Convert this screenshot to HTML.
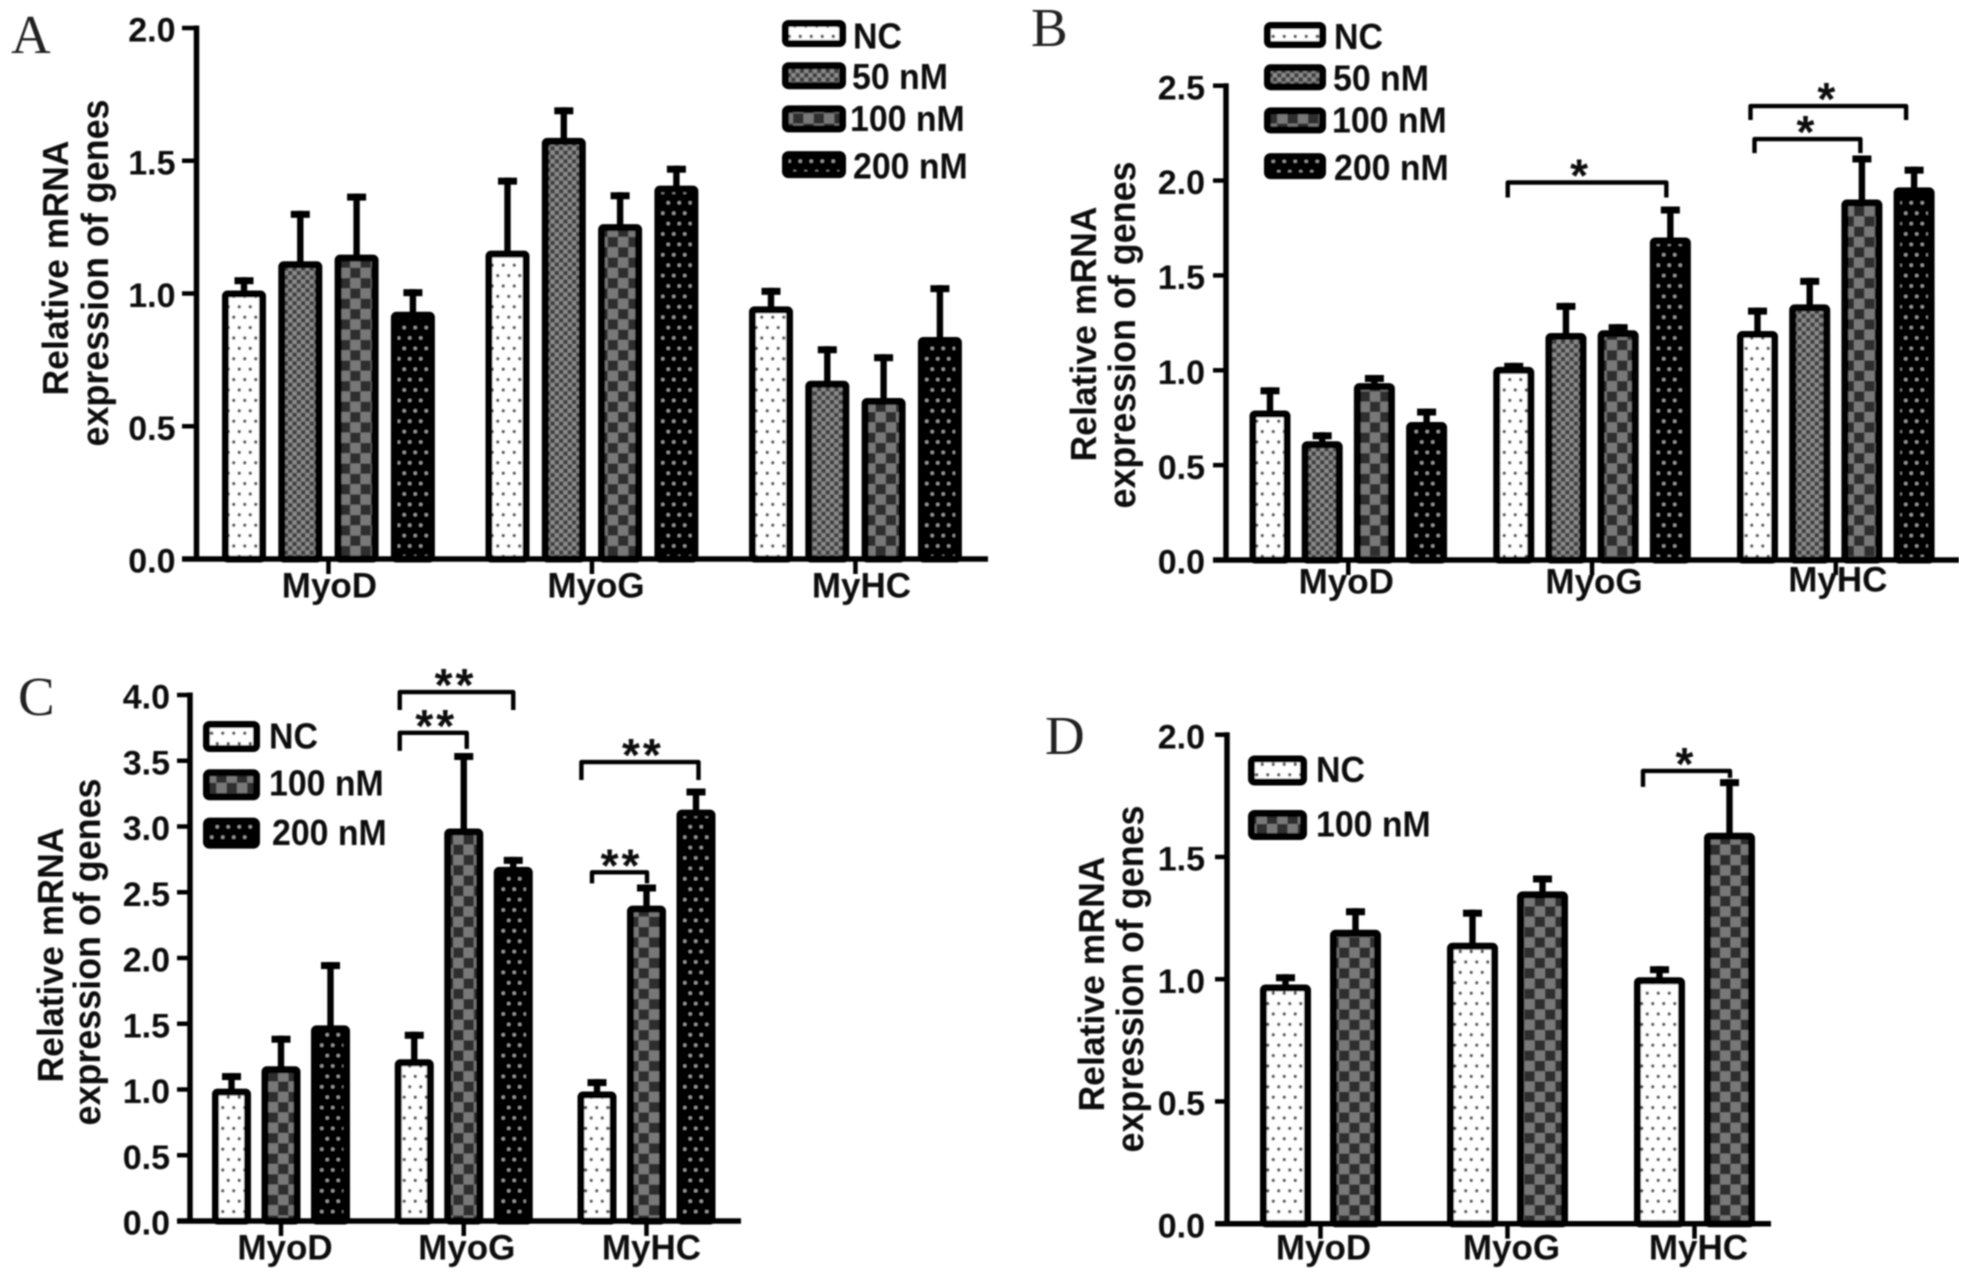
<!DOCTYPE html>
<html lang="en">
<head>
<meta charset="utf-8">
<title>Relative mRNA expression of myogenic genes</title>
<style>
html,body{margin:0;padding:0;background:#fff;width:1986px;height:1280px;overflow:hidden}
svg{display:block}
text{font-family:"Liberation Sans",Arial,sans-serif;font-weight:bold;fill:#0a0a0a}
.letter{font-family:"Liberation Serif","Times New Roman",serif;font-weight:normal;font-size:55px;fill:#222}
.title{font-size:36px;text-anchor:middle}
.title2{font-size:38px;text-anchor:middle}
</style>
</head>
<body>
<svg id="figure" xmlns="http://www.w3.org/2000/svg" width="1986" height="1280" viewBox="0 0 1986 1280">
  <defs>
    <filter id="soft" x="0" y="0" width="100%" height="100%" filterUnits="objectBoundingBox"><feGaussianBlur stdDeviation="0.8"/></filter>
    <pattern id="fill-nc" patternUnits="userSpaceOnUse" width="11" height="20.8">
      <rect width="11" height="20.8" fill="#fff"/>
      <circle cx="2.75" cy="5.2" r="1.7" fill="#555"/>
      <circle cx="8.25" cy="15.6" r="1.7" fill="#555"/>
    </pattern>
    <pattern id="fill-50" patternUnits="userSpaceOnUse" width="8.6" height="8.6">
      <rect width="8.6" height="8.6" fill="#8a8a8a"/>
      <rect width="4.3" height="4.3" fill="#404040"/>
      <rect x="4.3" y="4.3" width="4.3" height="4.3" fill="#404040"/>
    </pattern>
    <pattern id="fill-100" patternUnits="userSpaceOnUse" width="20.6" height="20.6">
      <rect width="20.6" height="20.6" fill="#787878"/>
      <rect width="10.3" height="10.3" fill="#2e2e2e"/>
      <rect x="10.3" y="10.3" width="10.3" height="10.3" fill="#2e2e2e"/>
    </pattern>
    <pattern id="fill-200" patternUnits="userSpaceOnUse" width="11" height="20.8">
      <rect width="11" height="20.8" fill="#000"/>
      <circle cx="2.75" cy="5.2" r="1.6" fill="#a0a0a0"/>
      <circle cx="8.25" cy="15.6" r="1.6" fill="#a0a0a0"/>
    </pattern>
  </defs>
  <rect width="1986" height="1280" fill="#fff"/>
  <g id="root" filter="url(#soft)">
    <text class="letter" x="11" y="53">A</text>
    <text class="letter" x="1031" y="46">B</text>
    <text class="letter" x="18" y="715">C</text>
    <text class="letter" x="1045" y="754">D</text>

    <text class="title" textLength="255" lengthAdjust="spacingAndGlyphs" transform="translate(68,268) rotate(-90)">Relative mRNA</text>
    <text class="title2" textLength="347" lengthAdjust="spacingAndGlyphs" transform="translate(108,273) rotate(-90)">expression of genes</text>
    <text class="title" textLength="255" lengthAdjust="spacingAndGlyphs" transform="translate(1096,334) rotate(-90)">Relative mRNA</text>
    <text class="title2" textLength="347" lengthAdjust="spacingAndGlyphs" transform="translate(1135,335) rotate(-90)">expression of genes</text>
    <text class="title" textLength="255" lengthAdjust="spacingAndGlyphs" transform="translate(63,955) rotate(-90)">Relative mRNA</text>
    <text class="title2" textLength="347" lengthAdjust="spacingAndGlyphs" transform="translate(100,952) rotate(-90)">expression of genes</text>
    <text class="title" textLength="255" lengthAdjust="spacingAndGlyphs" transform="translate(1104,984) rotate(-90)">Relative mRNA</text>
    <text class="title2" textLength="347" lengthAdjust="spacingAndGlyphs" transform="translate(1143,979) rotate(-90)">expression of genes</text>
  </g>
</svg>
<script>
// ---- Shared categories ----
const categories = ['MyoD', 'MyoG', 'MyHC'];

// ---- Panel A data ----
const ticksA = [0, 0.5, 1, 1.5, 2];
const labelsA = ['NC', '50 nM', '100 nM', '200 nM'];
const fillsA = ['fill-nc', 'fill-50', 'fill-100', 'fill-200'];
const a_nc = [1.0, 1.15, 0.94];
const a_50 = [1.11, 1.575, 0.66];
const a_100 = [1.135, 1.25, 0.595];
const a_200 = [0.92, 1.395, 0.825];
const a_nc_sd = [0.05, 0.275, 0.07];
const a_50_sd = [0.19, 0.115, 0.13];
const a_100_sd = [0.23, 0.12, 0.165];
const a_200_sd = [0.085, 0.075, 0.195];

// ---- Panel B data ----
const ticksB = [0, 0.5, 1, 1.5, 2, 2.5];
const labelsB = ['NC', '50 nM', '100 nM', '200 nM'];
const fillsB = ['fill-nc', 'fill-50', 'fill-100', 'fill-200'];
const b_nc = [0.775, 1.005, 1.194];
const b_50 = [0.613, 1.183, 1.334];
const b_100 = [0.919, 1.198, 1.887];
const b_200 = [0.714, 1.687, 1.951];
const b_nc_sd = [0.122, 0.021, 0.123];
const b_50_sd = [0.047, 0.159, 0.14];
const b_100_sd = [0.043, 0.032, 0.232];
const b_200_sd = [0.071, 0.163, 0.109];

// ---- Panel C data ----
const ticksC = [0, 0.5, 1, 1.5, 2, 2.5, 3, 3.5, 4];
const labelsC = ['NC', '100 nM', '200 nM'];
const fillsC = ['fill-nc', 'fill-100', 'fill-200'];
const c_nc = [0.988, 1.211, 0.966];
const c_100 = [1.158, 2.966, 2.379];
const c_200 = [1.469, 2.674, 3.109];
const c_nc_sd = [0.118, 0.209, 0.094];
const c_100_sd = [0.232, 0.574, 0.161];
const c_200_sd = [0.481, 0.076, 0.161];

// ---- Panel D data ----
const ticksD = [0, 0.5, 1, 1.5, 2];
const labelsD = ['NC', '100 nM'];
const fillsD = ['fill-nc', 'fill-100'];
const d_nc = [0.968, 1.139, 0.998];
const d_100 = [1.192, 1.349, 1.589];
const d_nc_sd = [0.042, 0.135, 0.045];
const d_100_sd = [0.088, 0.065, 0.219];

// ---- Panel geometry and annotations (layout only) ----
const panels = [
  {id:'a', series:[a_nc,a_50,a_100,a_200], errors:[a_nc_sd,a_50_sd,a_100_sd,a_200_sd], ticks:ticksA, labels:labelsA, fills:fillsA,
   ymax:2, axisX:196.5, top:28, base:559, axisEnd:988, tickLeft:182, tickEnd:21, lift:3,
   left:222, barStep:56.3, groupStep:263.5, barW:44, catY:585, catDx:[1,4,6], catDy:[0,0,0],
   legX:782, legW:64, legTop:20, legStep:43.7, legH:27, legTextX:852,
   legBoxDy:[0,-1.5,-2,0], legTextDy:[1,-2,-4,0], legTextDx:[1,0,-2,1], brackets:[]},
  {id:'b', series:[b_nc,b_50,b_100,b_200], errors:[b_nc_sd,b_50_sd,b_100_sd,b_200_sd], ticks:ticksB, labels:labelsB, fills:fillsB,
   ymax:2.5, axisX:1226, top:85.7, base:560, axisEnd:1959, tickLeft:1213, tickEnd:21, lift:2.5,
   left:1249.5, barStep:52.2, groupStep:243.75, barW:41, catY:581, catDx:[-2,2,2], catDy:[0,0,-2],
   legX:1264, legW:62, legTop:22, legStep:43.7, legH:26, legTextX:1334,
   legBoxDy:[0,-1.5,-2,0], legTextDy:[0,-2,-4,0], legTextDx:[0,-1,-2,0],
   brackets:[
     {g:1,s1:0,dx1:-6,s2:3,dx2:-4,level:1.995,drop1:15,drop2:15,stars:'*',starDx:-8},
     {g:2,s1:0,dx1:-7,s2:3,dx2:-8,level:2.398,drop1:14,drop2:14,stars:'*',starDx:-2},
     {g:2,s1:0,dx1:-3,s2:2,dx2:-1.5,level:2.224,drop1:14,drop2:14,stars:'*',starDx:-2}
   ]},
  {id:'c', series:[c_nc,c_100,c_200], errors:[c_nc_sd,c_100_sd,c_200_sd], ticks:ticksC, labels:labelsC, fills:fillsC,
   ymax:4, axisX:190, top:695, base:1221, axisEnd:741, tickLeft:177, tickEnd:20, lift:2.5,
   left:212, barStep:49.5, groupStep:182.75, barW:39, catY:1247, catDx:[4,3,5], catDy:[0,0,0],
   legX:203, legW:57, legTop:721, legStep:48.3, legH:31, legTextX:269,
   legBoxDy:[0,0,0], legTextDy:[-2,-3,-2], legTextDx:[0,0,3],
   brackets:[
     {g:1,s1:0,dx1:-14.5,s2:2,dx2:0,level:4.03,drop1:18,drop2:18,stars:'**',starDx:-1},
     {g:1,s1:0,dx1:-14.5,s2:1,dx2:3,level:3.72,drop1:18,drop2:16,stars:'**',starDx:3},
     {g:2,s1:0,dx1:-15.6,s2:2,dx2:2.5,level:3.498,drop1:18,drop2:18,stars:'**',starDx:3},
     {g:2,s1:0,dx1:-5,s2:1,dx2:0.5,level:2.659,drop1:11,drop2:11,stars:'**',starDx:2}
   ]},
  {id:'d', series:[d_nc,d_100], errors:[d_nc_sd,d_100_sd], ticks:ticksD, labels:labelsD, fills:fillsD,
   ymax:2, axisX:1227, top:734.7, base:1223.7, axisEnd:1771, tickLeft:1215, tickEnd:22, lift:2.5,
   left:1260, barStep:70, groupStep:187, barW:51, catY:1247, catDx:[3,4,4], catDy:[0,0,0],
   legX:1248, legW:59, legTop:755.5, legStep:54.5, legH:30, legTextX:1316,
   legBoxDy:[0,0], legTextDy:[-2.5,-2.5], legTextDx:[0,0],
   brackets:[
     {g:2,s1:0,dx1:-16.5,s2:1,dx2:0.5,level:1.856,drop1:16,drop2:7,stars:'*',starDx:-2}
   ]}
];

const NS = 'http://www.w3.org/2000/svg';
const root = document.getElementById('root');

function mk(tag, attrs, parent) {
  const el = document.createElementNS(NS, tag);
  for (const k in attrs) el.setAttribute(k, attrs[k]);
  parent.appendChild(el);
  return el;
}
function label(str, x, cy, size, anchor, parent) {
  const el = mk('text', {x: x, y: cy + size * 0.358, 'font-size': size, 'text-anchor': anchor}, parent);
  el.textContent = str;
  return el;
}

panels.forEach(function (p) {
  const yScale = function (v) { return p.base - (v / p.ymax) * (p.base - p.top); };
  const barLeft = function (g, s) { return p.left + g * p.groupStep + s * p.barStep; };
  const barCenter = function (g, s) { return barLeft(g, s) + p.barW / 2; };
  const groupCenter = function (g) {
    return (barLeft(g, 0) + barLeft(g, p.series.length - 1) + p.barW) / 2;
  };

  const panel = mk('g', {}, root);
  
  

  // Bars with error bars
  p.series.forEach(function (vals, s) {
    vals.forEach(function (v, g) {
      const cx = barCenter(g, s);
      const yTop = yScale(v) - p.lift;
      const yErr = yScale(v + p.errors[s][g]) - p.lift;

      const stem = mk('rect', {x: cx - 3.2, y: yErr, width: 6.4, height: yTop - yErr + 4, fill: '#000'}, panel);
      
      

      const cap = mk('rect', {x: cx - 9.5, y: yErr, width: 19, height: 7, fill: '#000'}, panel);
      
      

      const bar = mk('rect', {
        x: barLeft(g, s) + 3.5, y: yTop + 3.5,
        width: p.barW - 7, height: Math.max(0, p.base - yTop - 3.5),
        rx: 2, fill: 'url(#' + p.fills[s] + ')', stroke: '#000', 'stroke-width': 7, 'stroke-linejoin': 'round'
      }, panel);
      
      
    });
  });

  // Axes
  const yAxis = mk('line', {x1: p.axisX, x2: p.axisX, y1: p.top - 2.5, y2: p.base + 2.5, stroke: '#000', 'stroke-width': 5.5}, panel);
  
  

  const xAxis = mk('line', {x1: p.tickLeft, x2: p.axisEnd, y1: p.base, y2: p.base, stroke: '#000', 'stroke-width': 5.5}, panel);
  
  

  p.ticks.forEach(function (t) {
    const y = yScale(t);
    const tick = mk('line', {x1: p.tickLeft, x2: p.axisX, y1: y, y2: y, stroke: '#000', 'stroke-width': 4.5}, panel);
    
    

    const tl = label(t.toFixed(1), p.axisX - p.tickEnd, y + 1.5, 34, 'end', panel);
    
    
  });

  categories.forEach(function (c, g) {
    const gx = groupCenter(g);
    const tick = mk('line', {x1: gx, x2: gx, y1: p.base, y2: p.base + 15, stroke: '#000', 'stroke-width': 4.5}, panel);
    
    

    const cl = label(c, gx + p.catDx[g], p.catY + p.catDy[g], 35, 'middle', panel);
    
    
  });

  // Significance brackets
  p.brackets.forEach(function (b) {
    const x1 = barCenter(b.g, b.s1) + b.dx1;
    const x2 = barCenter(b.g, b.s2) + b.dx2;
    const y = yScale(b.level) + 1;
    const path = mk('path', {
      d: 'M' + x1 + ' ' + (y + b.drop1) + 'V' + y + 'H' + x2 + 'V' + (y + b.drop2),
      fill: 'none', stroke: '#000', 'stroke-width': 4.4, 'stroke-linejoin': 'round'
    }, panel);
    
    

    const star = mk('text', {
      x: (x1 + x2) / 2 + b.starDx, y: y + 9,
      'font-size': 46, 'text-anchor': 'middle', 'letter-spacing': b.stars.length > 1 ? 3 : 0
    }, panel);
    star.textContent = b.stars;
    
    
  });

  // Legend
  p.labels.forEach(function (name, s) {
    const y = p.legTop + s * p.legStep;
    const swatch = mk('rect', {
      x: p.legX + 3.5, y: y + p.legBoxDy[s] + 3.5, width: p.legW - 7, height: p.legH - 7,
      rx: 3, fill: 'url(#' + p.fills[s] + ')', stroke: '#000', 'stroke-width': 7, 'stroke-linejoin': 'round'
    }, panel);
    
    

    const txt = label(name, p.legTextX + p.legTextDx[s], y + p.legH / 2 + 1 + p.legTextDy[s], 36, 'start', panel);
    txt.setAttribute('textLength', (txt.getComputedTextLength() * 0.94).toFixed(1));
    txt.setAttribute('lengthAdjust', 'spacingAndGlyphs');
    
    
  });
});
</script>
</body>
</html>
